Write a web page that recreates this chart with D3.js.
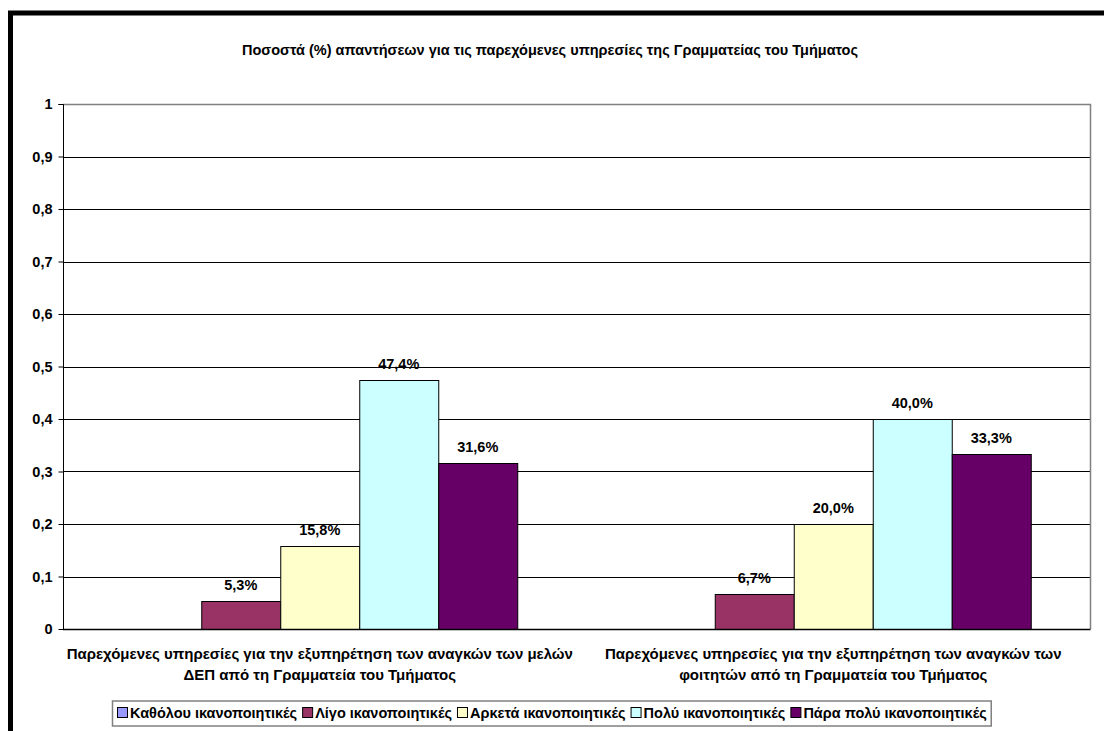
<!DOCTYPE html>
<html>
<head>
<meta charset="utf-8">
<script src="https://cdn.jsdelivr.net/npm/d3@7"></script>
<style>
  html, body { margin: 0; padding: 0; background: #fff; }
  svg { display: block; }
  text { font-family: "Liberation Sans", Arial, sans-serif; font-weight: bold; font-size: 14.5px; fill: #000; }
  .cat { font-size: 15px; }
</style>
</head>
<body>
<svg id="chart" width="1104" height="731"></svg>
<script>
// Survey answers: share of responses per satisfaction level
const title = "Ποσοστά (%) απαντήσεων για τις παρεχόμενες υπηρεσίες της Γραμματείας του Τμήματος";
const categories = [
  ["Παρεχόμενες υπηρεσίες για την εξυπηρέτηση των αναγκών των μελών", "ΔΕΠ από τη Γραμματεία του Τμήματος"],
  ["Παρεχόμενες υπηρεσίες για την εξυπηρέτηση των αναγκών των", "φοιτητών από τη Γραμματεία του Τμήματος"]
];
const seriesNames = ["Καθόλου ικανοποιητικές", "Λίγο ικανοποιητικές", "Αρκετά ικανοποιητικές", "Πολύ ικανοποιητικές", "Πάρα πολύ ικανοποιητικές"];
const seriesColors = ["#9999FF", "#993366", "#FFFFCC", "#CCFFFF", "#660066"];
const valuesStaff = [0, 0.053, 0.158, 0.474, 0.316];
const valuesStudents = [0, 0.067, 0.200, 0.400, 0.333];
const yTicks = [0, 0.1, 0.2, 0.3, 0.4, 0.5, 0.6, 0.7, 0.8, 0.9, 1];

const svg = d3.select("#chart");
const plot = { left: 63, right: 1090, top: 104, bottom: 629 };

// Outer frame (its right and bottom edges run past the page)
svg.append("rect")
  .attr("x", 10.5).attr("y", 13)
  .attr("width", 1200).attr("height", 800)
  .attr("fill", "none").attr("stroke", "#000").attr("stroke-width", 5);

// Title
svg.append("text")
  .attr("x", 242).attr("y", 55)
  .text(title);

const y = d3.scaleLinear().domain([0, 1]).range([plot.bottom, plot.top]);
const x0 = d3.scaleBand().domain(d3.range(categories.length)).range([plot.left, plot.right]);
// 150% gap width: five bars take 5 / 6.5 of each category slot
const groupWidth = x0.bandwidth() * 5 / 6.5;
const x1 = d3.scaleBand().domain(d3.range(seriesNames.length)).range([0, groupWidth]);

// Gridlines
svg.append("g")
  .selectAll("line")
  .data(yTicks.filter(t => t > 0 && t < 1))
  .join("line")
  .attr("x1", plot.left).attr("x2", plot.right)
  .attr("y1", d => Math.round(y(d)) + 0.5).attr("y2", d => Math.round(y(d)) + 0.5)
  .attr("stroke", "#000").attr("stroke-width", 1);

// Plot-area border (top and right)
svg.append("path")
  .attr("d", `M${plot.left},${Math.round(y(1)) + 0.5}H${plot.right + 0.5}V${plot.bottom}`)
  .attr("fill", "none").attr("stroke", "#808080").attr("stroke-width", 1.5);

// Bars
const data = [valuesStaff, valuesStudents];
const groups = svg.append("g").selectAll("g")
  .data(data)
  .join("g")
  .attr("transform", (d, i) => `translate(${x0(i) + (x0.bandwidth() - groupWidth) / 2},0)`);

groups.selectAll("rect")
  .data(d => d.map((v, j) => ({ v, j })).filter(e => e.v > 0))
  .join("rect")
  .attr("x", e => Math.round(x1(e.j)) + 0.5)
  .attr("y", e => Math.round(y(e.v)) + 0.5)
  .attr("width", x1.bandwidth())
  .attr("height", e => y(0) - Math.round(y(e.v)))
  .attr("fill", e => seriesColors[e.j])
  .attr("stroke", "#000").attr("stroke-width", 1);

groups.selectAll("text")
  .data(d => d.map((v, j) => ({ v, j })).filter(e => e.v > 0))
  .join("text")
  .attr("x", e => x1(e.j) + x1.bandwidth() / 2)
  .attr("y", e => y(e.v) - 11)
  .attr("text-anchor", "middle")
  .text(e => (e.v * 100).toFixed(1).replace(".", ",") + "%");

// Y axis
const yAxis = svg.append("g")
  .attr("transform", `translate(${plot.left + 0.5},0)`)
  .call(d3.axisLeft(y).tickValues(yTicks).tickSize(5).tickPadding(6)
    .tickFormat(d => String(d).replace(".", ",")));
yAxis.select(".domain").attr("stroke", "#000").attr("d", `M-5,${Math.round(y(1)) + 0.5}H0V${plot.bottom}`);
yAxis.selectAll(".tick line").attr("stroke", "#000");
yAxis.selectAll(".tick text")
  .attr("font-family", null).attr("font-size", null)
  .style("font-family", "'Liberation Sans', Arial, sans-serif")
  .style("font-size", "14.5px").style("font-weight", "bold").attr("fill", "#000");

// X axis baseline
svg.append("line")
  .attr("x1", plot.left).attr("x2", plot.right + 0.5)
  .attr("y1", plot.bottom + 0.5).attr("y2", plot.bottom + 0.5)
  .attr("stroke", "#000").attr("stroke-width", 1.5);

// Category labels
svg.append("g").selectAll("text")
  .data(categories)
  .join("text")
  .attr("class", "cat")
  .attr("text-anchor", "middle")
  .attr("transform", (d, i) => `translate(${x0(i) + x0.bandwidth() / 2},659)`)
  .selectAll("tspan")
  .data(d => d)
  .join("tspan")
  .attr("x", 0).attr("dy", (d, k) => k === 0 ? 0 : 21)
  .text(d => d);

// Legend
const legend = svg.append("g");
const legendBox = legend.append("rect")
  .attr("fill", "#fff").attr("stroke", "#808080").attr("stroke-width", 1.5);
let cursor = 0;
const items = legend.append("g");
seriesNames.forEach((name, j) => {
  const it = items.append("g").attr("transform", `translate(${cursor},0)`);
  it.append("rect")
    .attr("x", 0.5).attr("y", -10.5).attr("width", 10).attr("height", 10)
    .attr("fill", seriesColors[j]).attr("stroke", "#000").attr("stroke-width", 1);
  const t = it.append("text").attr("x", 13).attr("y", 0).text(name);
  cursor += 13 + t.node().getComputedTextLength() + 5;
});
const totalW = cursor - 5;
const legendX = 117;
items.attr("transform", `translate(${legendX},718)`);
legendBox
  .attr("x", legendX - 4.5).attr("y", 701)
  .attr("width", totalW + 9).attr("height", 25);
</script>
</body>
</html>
